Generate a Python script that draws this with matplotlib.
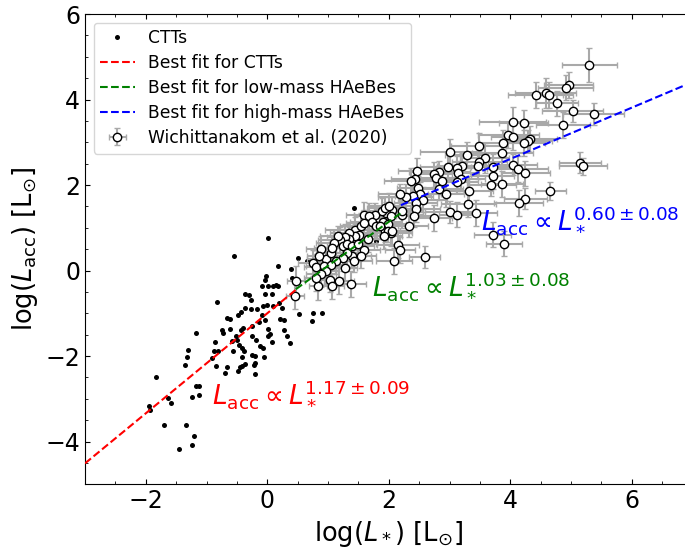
#accretion luminosity vs stellar luminosity
import numpy as np
import matplotlib.pyplot as plt

# CTTs (log L*, log Lacc)
ctt_x = [-0.82, -0.37, -0.30, -0.09, 0.01, -0.04, 0.07, 0.18, -0.66, -0.61,
         -0.48, -0.44, -0.36, -0.26, -0.26, -0.165, -0.07, 0.0, 0.10, 0.19,
         0.25, 0.21, -0.09, -0.04, -0.14, -0.25, -0.40, -0.43, -0.74, -0.73,
         -0.61, -0.52, -0.50, -0.47, -0.42, -0.385, -0.41, -0.25, -0.20, -0.21,
         -0.19, -0.12, -0.065, 0.01, 0.04, 0.02, 0.08, 0.275, 0.275, 0.33,
         0.37, 0.52, 0.73, 0.76, 0.90, -0.25, -0.58, -0.56, -0.86, -0.81,
         -0.87, -0.91, -0.84, -0.69, -0.66, -0.45, -0.48, -0.42, -0.37, -0.21,
         -0.22, -0.055, -1.17, -1.31, -1.32, -1.36, -1.83, -1.63, -1.59, -1.95,
         -1.93, -1.70, -1.33, -1.21, -1.24, -1.45, -1.24, -1.17, -1.12, -1.12,
         0.02, -0.55, 0.51, 0.18, 0.66, 0.39, -0.02, -0.04, 0.09, 0.14,
         0.41, 1.43, 1.79, 0.91, 1.05]
ctt_y = [-0.74, -0.56, -0.58, -0.35, -0.37, -0.56, -0.56, -0.35, -1.11, -1.13,
         -1.05, -0.97, -0.875, -0.91, -0.68, -0.89, -0.82, -0.80, -0.82, -0.77,
         -0.875, -1.13, -1.05, -1.15, -1.21, -1.30, -1.34, -1.38, -1.38, -1.46,
         -1.37, -1.52, -1.62, -1.73, -1.81, -1.89, -2.02, -1.97, -2.01, -2.16,
         -1.62, -1.76, -1.81, -1.37, -1.48, -1.54, -1.66, -1.15, -1.38, -1.54,
         -1.70, -1.02, -1.17, -0.99, -0.99, -1.54, -1.64, -1.87, -1.68, -1.875,
         -1.89, -2.05, -2.23, -2.40, -2.26, -2.26, -2.34, -2.23, -2.19, -2.41,
         -2.22, -2.03, -1.46, -1.85, -2.02, -2.20, -2.49, -2.98, -3.10, -3.16,
         -3.27, -3.62, -3.62, -3.88, -4.09, -4.18, -2.96, -2.71, -2.70, -2.91,
         0.75, 0.34, 0.30, 0.10, 0.22, 0.04, -0.12, -0.21, -0.37, -0.33,
         -0.17, 1.47, 0.69, -0.05, -0.38]

# Wichittanakom et al. (2020)
w_x = [5.30, 4.96, 4.91, 4.58, 4.63, 4.42, 4.77, 5.03, 5.37, 4.87,
       4.04, 4.22, 3.97, 4.04, 4.32, 4.29, 4.22, 3.88, 3.87, 3.48,
       3.01, 3.28, 3.58, 3.49, 3.47, 3.71, 4.04, 4.12, 4.25, 5.15,
       5.20, 3.20, 3.12, 2.97, 2.83, 3.14, 3.19, 3.12, 2.74, 2.77,
       2.87, 3.71, 3.69, 3.86, 2.46, 2.43, 2.37, 2.48, 2.83, 2.94,
       3.32, 2.51, 2.40, 2.28, 2.56, 2.18, 4.66, 4.25, 4.14, 3.31,
       3.00, 3.13, 3.43, 2.74, 2.44, 2.45, 2.34, 2.21, 2.05, 1.95,
       3.71, 2.03, 1.94, 3.90, 2.42, 2.22, 1.89, 2.04, 1.90, 1.77,
       1.60, 1.67, 1.72, 1.79, 1.98, 1.99, 2.06, 1.92, 2.15, 2.18,
       2.09, 2.59, 1.45, 1.54, 1.60, 1.51, 1.65, 1.45, 1.34, 1.35,
       1.28, 1.19, 1.16, 1.10, 1.24, 1.32, 1.40, 1.49, 1.60, 1.40,
       1.31, 1.24, 1.13, 1.28, 1.42, 1.54, 0.96, 1.05, 1.07, 0.88,
       0.85, 0.755, 0.80, 0.93, 1.05, 0.97, 0.88, 0.84, 1.04, 1.18,
       1.06, 1.38, 0.47, 0.46, 0.80, 1.94, 2.01, 1.86]
w_y = [4.80, 4.34, 4.28, 4.16, 4.11, 4.10, 3.91, 3.73, 3.66, 3.41,
       3.48, 3.45, 3.17, 3.12, 3.07, 3.04, 2.99, 2.98, 2.76, 2.91,
       2.77, 2.70, 2.64, 2.54, 2.45, 2.42, 2.48, 2.37, 2.27, 2.52,
       2.44, 2.45, 2.39, 2.43, 2.31, 2.27, 2.15, 2.07, 2.25, 2.17,
       2.09, 2.21, 2.00, 2.03, 2.33, 2.15, 2.09, 1.92, 1.90, 1.78,
       1.86, 1.78, 1.74, 1.73, 1.66, 1.78, 1.86, 1.68, 1.58, 1.55,
       1.37, 1.31, 1.35, 1.23, 1.59, 1.43, 1.04, 1.29, 1.41, 1.35,
       0.84, 0.88, 0.92, 0.63, 1.27, 1.39, 1.39, 1.27, 1.13, 1.29,
       1.31, 1.27, 1.13, 1.04, 1.08, 0.92, 0.92, 0.80, 0.59, 0.48,
       0.23, 0.32, 0.96, 1.04, 1.12, 0.82, 0.74, 0.80, 0.88, 0.73,
       0.79, 0.71, 0.80, 0.65, 0.57, 0.63, 0.57, 0.61, 0.49, 0.35,
       0.41, 0.30, 0.22, 0.06, 0.22, 0.35, 0.26, 0.41, 0.53, 0.51,
       0.34, 0.18, 0.09, 0.10, 0.14, -0.02, -0.09, -0.35, -0.21, -0.25,
       -0.37, -0.32, -0.25, -0.60, -0.17, 1.47, 1.51, 1.04]
w_xerr = [0.45, 0.4, 0.45, 0.5, 0.4, 0.45, 0.35, 0.5, 0.5, 0.45,
          0.55, 0.4, 0.5, 0.35, 0.45, 0.4, 0.35, 0.4, 0.5, 0.45,
          0.5, 0.35, 0.4, 0.45, 0.3, 0.35, 0.4, 0.5, 0.4, 0.35,
          0.4, 0.4, 0.35, 0.45, 0.5, 0.3, 0.4, 0.35, 0.3, 0.4,
          0.45, 0.35, 0.4, 0.35, 0.3, 0.4, 0.45, 0.35, 0.4, 0.3,
          0.4, 0.35, 0.3, 0.45, 0.4, 0.35, 0.25, 0.35, 0.4, 0.45,
          0.4, 0.3, 0.35, 0.3, 0.35, 0.4, 0.3, 0.35, 0.3, 0.4,
          0.3, 0.35, 0.25, 0.3, 0.3, 0.35, 0.3, 0.4, 0.3, 0.35,
          0.3, 0.25, 0.35, 0.3, 0.3, 0.35, 0.3, 0.3, 0.35, 0.25,
          0.3, 0.25, 0.5, 0.35, 0.3, 0.25, 0.3, 0.35, 0.3, 0.25,
          0.3, 0.35, 0.3, 0.3, 0.25, 0.3, 0.35, 0.3, 0.25, 0.3,
          0.3, 0.25, 0.3, 0.2, 0.3, 0.25, 0.3, 0.25, 0.3, 0.25,
          0.2, 0.25, 0.2, 0.3, 0.25, 0.2, 0.25, 0.15, 0.2, 0.25,
          0.2, 0.25, 0.15, 0.15, 0.2, 0.3, 0.35, 0.3]
w_yerr = [0.4, 0.3, 0.3, 0.35, 0.3, 0.3, 0.3, 0.25, 0.25, 0.3,
          0.35, 0.3, 0.3, 0.3, 0.3, 0.25, 0.3, 0.3, 0.3, 0.3,
          0.3, 0.3, 0.35, 0.3, 0.3, 0.3, 0.25, 0.3, 0.3, 0.25,
          0.2, 0.3, 0.3, 0.3, 0.25, 0.3, 0.3, 0.25, 0.3, 0.25,
          0.3, 0.3, 0.25, 0.3, 0.3, 0.25, 0.3, 0.3, 0.25, 0.3,
          0.35, 0.3, 0.25, 0.3, 0.3, 0.25, 0.2, 0.25, 0.3, 0.3,
          0.25, 0.3, 0.3, 0.3, 0.35, 0.3, 0.25, 0.3, 0.3, 0.25,
          0.3, 0.3, 0.25, 0.3, 0.25, 0.3, 0.3, 0.25, 0.3, 0.3,
          0.3, 0.3, 0.25, 0.3, 0.3, 0.25, 0.3, 0.3, 0.3, 0.3,
          0.3, 0.25, 0.3, 0.3, 0.3, 0.25, 0.3, 0.3, 0.25, 0.3,
          0.3, 0.3, 0.25, 0.3, 0.3, 0.25, 0.3, 0.3, 0.25, 0.3,
          0.3, 0.3, 0.3, 0.3, 0.25, 0.3, 0.3, 0.25, 0.3, 0.3,
          0.3, 0.3, 0.3, 0.25, 0.3, 0.3, 0.3, 0.35, 0.3, 0.3,
          0.3, 0.3, 0.35, 0.3, 0.3, 0.25, 0.3, 0.3]

# best fits: slope, intercept, x range
fit_ctt = (1.17, -1.0, -3.0, 0.47)
fit_low = (1.03, -0.92, 0.47, 2.2)
fit_high = (0.60, 0.21, 2.2, 7.0)

fig = plt.figure(figsize=(6.85, 5.52), dpi=100)
ax = fig.add_axes([0.1241, 0.1226, 0.8869, 0.852])

ax.plot(ctt_x, ctt_y, 'o', color='k', ms=3.6, mew=0, label='CTTs', zorder=2)

def fitline(p, c, lab):
    xx = np.array([p[2], p[3]])
    ax.plot(xx, p[0]*xx + p[1], '--', color=c, lw=1.5, label=lab, zorder=4)

fitline(fit_ctt, 'r', 'Best fit for CTTs')
fitline(fit_low, 'g', 'Best fit for low-mass HAeBes')
fitline(fit_high, 'b', 'Best fit for high-mass HAeBes')

ax.errorbar(w_x, w_y, xerr=w_xerr, yerr=w_yerr, fmt='o', ms=6, mfc='white',
            mec='k', mew=1, ecolor='darkgray', elinewidth=1.5, capsize=2.5,
            label='Wichittanakom et al. (2020)', zorder=3)

ax.text(-0.91, -3.06, r'$L_{\rm acc} \propto L_*^{1.17\pm0.09}$', color='r',
        fontsize=19, va='baseline')
ax.text(1.72, -0.54, r'$L_{\rm acc} \propto L_*^{1.03\pm0.08}$', color='g',
        fontsize=19, va='baseline')
ax.text(3.52, 1.0, r'$L_{\rm acc} \propto L_*^{0.60\pm0.08}$', color='b',
        fontsize=19, va='baseline')

ax.set_xlim(-3, 7)
ax.set_ylim(-5, 6)
ax.set_xticks([-2, 0, 2, 4, 6])
ax.set_yticks([-4, -2, 0, 2, 4, 6])
ax.set_xticks(np.arange(-3, 7.01, 0.5), minor=True)
ax.set_yticks(np.arange(-5, 6.01, 0.5), minor=True)
ax.tick_params(which='both', direction='in', top=True, right=True, labelsize=17)
ax.set_xlabel(r'log($L_*$) [L$_{\odot}$]', fontsize=18.5)
ax.set_ylabel(r'log($L_{\rm acc}$) [L$_{\odot}$]', fontsize=18.5)

ax.legend(loc='upper left', fontsize=12.3, labelspacing=0.4)

plt.savefig('out.png', dpi=100)
